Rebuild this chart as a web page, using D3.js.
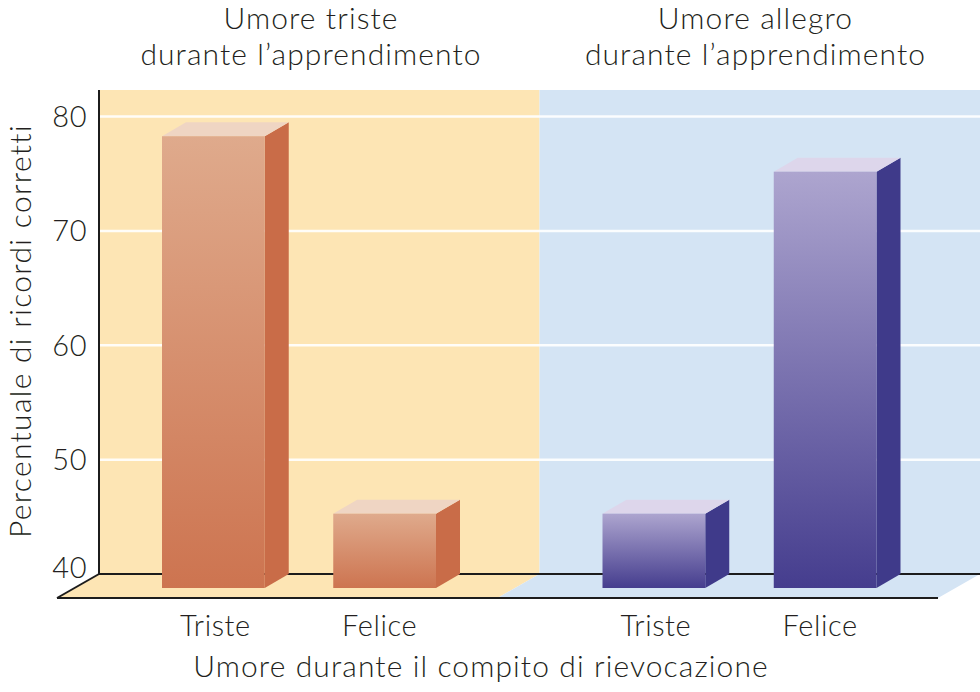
<!DOCTYPE html>
<html><head><meta charset="utf-8">
<script src="https://cdn.jsdelivr.net/npm/d3@7"></script>
<style>html,body{margin:0;padding:0;background:#fff}svg{display:block}</style>
</head><body>
<svg id="chart" width="980" height="692"></svg>
<script>
// ---- data ----
const groups = ["Umore triste|durante l\u2019apprendimento", "Umore allegro|durante l\u2019apprendimento"];
const recallMoods = ["Triste", "Felice"];
const sadLearning = [79.5, 46.5];
const happyLearning = [46.5, 76.4];
const yTicks = [40, 50, 60, 70, 80];
const yTitle = "Percentuale di ricordi corretti";
const xTitle = "Umore durante il compito di rievocazione";

const seriesByGroup = [sadLearning, happyLearning];
const palettes = [
  {bg:"#FDE5B4", top:"#EFD5C3", side:"#C96C48", g0:"#DFAA8C", g1:"#CD7450"},
  {bg:"#D4E4F4", top:"#DDD6EB", side:"#3F3A8A", g0:"#ADA5CF", g1:"#453D8E"}
];

const svg = d3.select("#chart");
const axisX = 99, right = 980;
const font = "Lato, 'Open Sans', sans-serif";
const fw = 300;
const textColor = "#231f20";

const y = d3.scaleLinear().domain([40, 80]).range([574, 116.5]);
const x0 = d3.scaleBand().domain(groups).range([axisX, right]);
const x1 = d3.scaleBand().domain(recallMoods).range([63, 337]).paddingInner(0.4);

const panelTop = 90;
const floorD = {dx: 42, dy: 24};     // floor depth
const barD = {dx: 24, dy: 14};       // bar depth
const base = y(40);

function styleText(sel, size, ls) {
  return sel.attr("font-family", font).attr("font-size", size).attr("font-weight", fw)
    .attr("letter-spacing", ls).attr("fill", textColor);
}

// gradients
const defs = svg.append("defs");
palettes.forEach((p, i) => {
  const g = defs.append("linearGradient").attr("id", "grad" + i)
    .attr("x1", 0).attr("y1", 0).attr("x2", 0).attr("y2", 1);
  g.append("stop").attr("offset", "0%").attr("stop-color", p.g0);
  g.append("stop").attr("offset", "100%").attr("stop-color", p.g1);
});

// back panels
groups.forEach((g, i) => {
  svg.append("rect").attr("x", x0(g)).attr("y", panelTop)
    .attr("width", x0.bandwidth()).attr("height", base - panelTop)
    .attr("fill", palettes[i].bg);
});

// gridlines
svg.append("g").selectAll("line").data(yTicks.filter(t => t > 40)).join("line")
  .attr("x1", axisX).attr("x2", right)
  .attr("y1", d => y(d)).attr("y2", d => y(d))
  .attr("stroke", "#ffffff").attr("stroke-opacity", 0.9).attr("stroke-width", 2.5);

// floor
groups.forEach((g, i) => {
  const xa = x0(g), xb = x0(g) + x0.bandwidth();
  const pts = [[xa, base], [xb, base], [xb - floorD.dx, base + floorD.dy], [xa - floorD.dx, base + floorD.dy]];
  svg.append("polygon").attr("points", pts.map(p => p.join(",")).join(" "))
    .attr("fill", palettes[i].bg);
});
const lineC = "#1c1c1c";
svg.append("line").attr("x1", axisX).attr("x2", right).attr("y1", base).attr("y2", base)
  .attr("stroke", lineC).attr("stroke-width", 2);
svg.append("line").attr("x1", axisX - floorD.dx).attr("x2", right - floorD.dx)
  .attr("y1", base + floorD.dy).attr("y2", base + floorD.dy)
  .attr("stroke", lineC).attr("stroke-width", 2);
svg.append("line").attr("x1", axisX).attr("x2", axisX - floorD.dx)
  .attr("y1", base).attr("y2", base + floorD.dy)
  .attr("stroke", lineC).attr("stroke-width", 2);
// y axis line
svg.append("line").attr("x1", axisX).attr("x2", axisX).attr("y1", panelTop).attr("y2", base)
  .attr("stroke", lineC).attr("stroke-width", 2);

// bars (3D)
const off = barD.dy; // bar front sits forward on the floor
groups.forEach((g, gi) => {
  const p = palettes[gi];
  const gEl = svg.append("g");
  recallMoods.forEach((c, ci) => {
    const v = seriesByGroup[gi][ci];
    const xl = x0(g) + x1(c), xr = xl + x1.bandwidth();
    const yt = y(v) + off, yb = base + off;
    gEl.append("polygon").attr("points", [[xr, yt], [xr + barD.dx, yt - barD.dy], [xr + barD.dx, yb - barD.dy], [xr, yb]].map(q => q.join(",")).join(" "))
      .attr("fill", p.side);
    gEl.append("polygon").attr("points", [[xl, yt], [xr, yt], [xr + barD.dx, yt - barD.dy], [xl + barD.dx, yt - barD.dy]].map(q => q.join(",")).join(" "))
      .attr("fill", p.top);
    gEl.append("rect").attr("x", xl).attr("y", yt).attr("width", x1.bandwidth()).attr("height", yb - yt)
      .attr("fill", `url(#grad${gi})`);
    styleText(svg.append("text").attr("x", (xl + xr) / 2 + (ci === 1 ? -5 : 2)).attr("y", 636)
      .attr("text-anchor", "middle"), 29, 0.6).text(c);
  });
  const cx = x0(g) + (x1.range()[0] + x1.range()[1]) / 2 + barD.dx / 2 + gi * 4;
  g.split("|").forEach((t, li) => {
    styleText(svg.append("text").attr("x", cx).attr("y", 29 + li * 36)
      .attr("text-anchor", "middle"), 30, 1.1).text(t);
  });
});

// y axis tick labels
const ax = svg.append("g").attr("transform", `translate(${axisX},0)`)
  .call(d3.axisLeft(y).tickValues(yTicks).tickSize(0).tickPadding(12));
ax.select(".domain").remove();
styleText(ax.selectAll("text"), 29, 0.5)
  .attr("dy", d => d === 40 ? "0.12em" : "0.34em");

// axis titles
styleText(svg.append("text").attr("transform", "translate(31,331) rotate(-90)")
  .attr("text-anchor", "middle"), 30, 1.3).text(yTitle);
styleText(svg.append("text").attr("x", 481).attr("y", 677)
  .attr("text-anchor", "middle"), 30, 1.1).text(xTitle);
</script>
</body></html>
